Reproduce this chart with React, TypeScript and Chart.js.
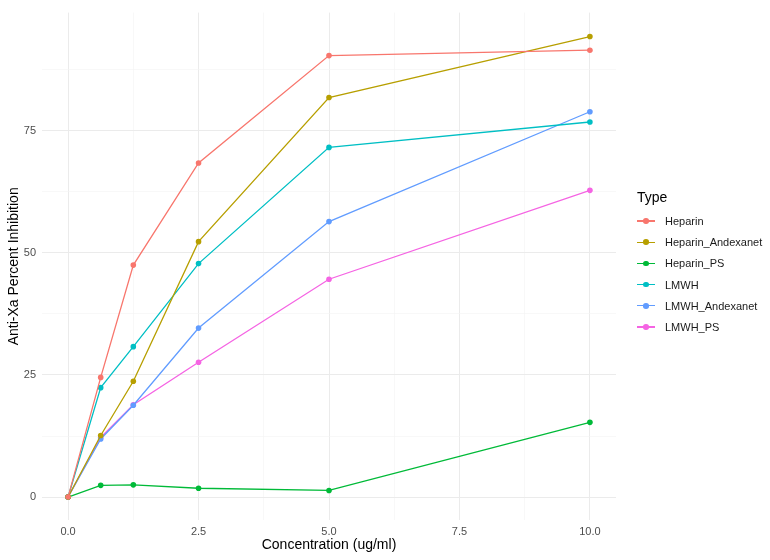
import React, { useEffect, useRef } from "react";
import { Chart, registerables } from "chart.js";

Chart.register(...registerables);

const concentrations = [0, 0.625, 1.25, 2.5, 5, 10];
const seriesNames = ["Heparin", "Heparin_Andexanet", "Heparin_PS", "LMWH", "LMWH_Andexanet", "LMWH_PS"];
const heparin = [0, 24.5, 47.5, 68.4, 90.4, 91.5];
const heparinAndexanet = [0, 12.6, 23.7, 52.3, 81.8, 94.3];
const heparinPS = [0, 2.4, 2.5, 1.8, 1.35, 15.3];
const lmwh = [0, 22.4, 30.8, 47.8, 71.6, 76.8];
const lmwhAndexanet = [0, 11.9, 18.8, 34.6, 56.4, 78.9];
const lmwhPS = [0, 12.2, 18.9, 27.6, 44.6, 62.8];
const seriesValues = [heparin, heparinAndexanet, heparinPS, lmwh, lmwhAndexanet, lmwhPS];
const colors = ["#F8766D", "#B79F00", "#00BA38", "#00BFC4", "#619CFF", "#F564E3"];
const xTicks = [0, 1.25, 2.5, 3.75, 5, 6.25, 7.5, 8.75, 10];
const yTicks = [0, 12.5, 25, 37.5, 50, 62.5, 75, 87.5];

const FONT = "'Liberation Sans', Arial, sans-serif";

export default function App() {
  const ref = useRef<HTMLCanvasElement | null>(null);
  useEffect(() => {
    if (!ref.current) return;
    const chart = new Chart(ref.current, {
      type: "line",
      data: {
        datasets: seriesNames.map((name, i) => ({
          label: name,
          data: concentrations.map((x, j) => ({ x, y: seriesValues[i][j] })),
          borderColor: colors[i],
          backgroundColor: colors[i],
          borderWidth: 1.3,
          pointRadius: 2.8,
          pointBorderWidth: 0,
          pointHoverRadius: 2.8,
          tension: 0,
        })),
      },
      options: {
        responsive: false,
        animation: false,
        layout: { padding: { left: 6, top: 7, right: 154, bottom: 6 } },
        plugins: { legend: { display: false }, tooltip: { enabled: false } },
        scales: {
          x: {
            type: "linear",
            min: -0.5,
            max: 10.5,
            afterFit: (s: any) => { s.height = 34; },
            afterBuildTicks: (s: any) => { s.ticks = xTicks.map((v) => ({ value: v })); },
            border: { display: false },
            grid: {
              color: (c: any) => (c.tick && c.tick.value % 2.5 === 0 ? "#EBEBEB" : "#F3F3F3"),
              lineWidth: (c: any) => (c.tick && c.tick.value % 2.5 === 0 ? 1 : 0.6),
              drawTicks: false,
            },
            ticks: {
              autoSkip: false,
              maxRotation: 0,
              padding: 5,
              color: "#4D4D4D",
              font: { family: FONT, size: 11 },
              callback: (v: any) => (Number(v) % 2.5 === 0 ? Number(v).toFixed(1) : ""),
            },
            title: {
              display: true,
              text: "Concentration (ug/ml)",
              color: "#000",
              font: { family: FONT, size: 14 },
              padding: { top: 0, bottom: 0 },
            },
          },
          y: {
            type: "linear",
            min: -4.7,
            max: 99.2,
            afterFit: (s: any) => { s.width = 36; },
            afterBuildTicks: (s: any) => { s.ticks = yTicks.map((v) => ({ value: v })); },
            border: { display: false },
            grid: {
              color: (c: any) => (c.tick && c.tick.value % 25 === 0 ? "#EBEBEB" : "#F3F3F3"),
              lineWidth: (c: any) => (c.tick && c.tick.value % 25 === 0 ? 1 : 0.6),
              drawTicks: false,
            },
            ticks: {
              autoSkip: false,
              padding: 6,
              color: "#4D4D4D",
              font: { family: FONT, size: 11 },
              callback: (v: any) => (Number(v) % 25 === 0 ? String(v) : ""),
            },
            title: {
              display: true,
              text: "Anti-Xa Percent Inhibition",
              color: "#000",
              font: { family: FONT, size: 14 },
              padding: { top: 0, bottom: 0 },
            },
          },
        },
      },
    });
    return () => chart.destroy();
  }, []);

  return (
    <div style={{ position: "fixed", left: 0, top: 0, width: 770, height: 560, background: "#fff" }}>
      <canvas ref={ref} width={770} height={560} style={{ position: "absolute", left: 0, top: 0 }} />
      <div style={{ position: "absolute", left: 637, top: 188, fontFamily: FONT, fontSize: 14, color: "#000", lineHeight: "18px" }}>Type</div>
      {seriesNames.map((name, i) => (
        <div key={name} style={{ position: "absolute", left: 637, top: 221 + i * 21.2 - 9, height: 18, display: "flex", alignItems: "center", fontFamily: FONT, fontSize: 11, color: "#1a1a1a" }}>
          <div style={{ position: "relative", width: 18, height: 18, marginRight: 10 }}>
            <div style={{ position: "absolute", left: 0, top: 8.4, width: 18, height: 1.3, background: colors[i] }} />
            <div style={{ position: "absolute", left: 6.2, top: 6.2, width: 5.6, height: 5.6, borderRadius: "50%", background: colors[i] }} />
          </div>
          <span>{name}</span>
        </div>
      ))}
    </div>
  );
}
